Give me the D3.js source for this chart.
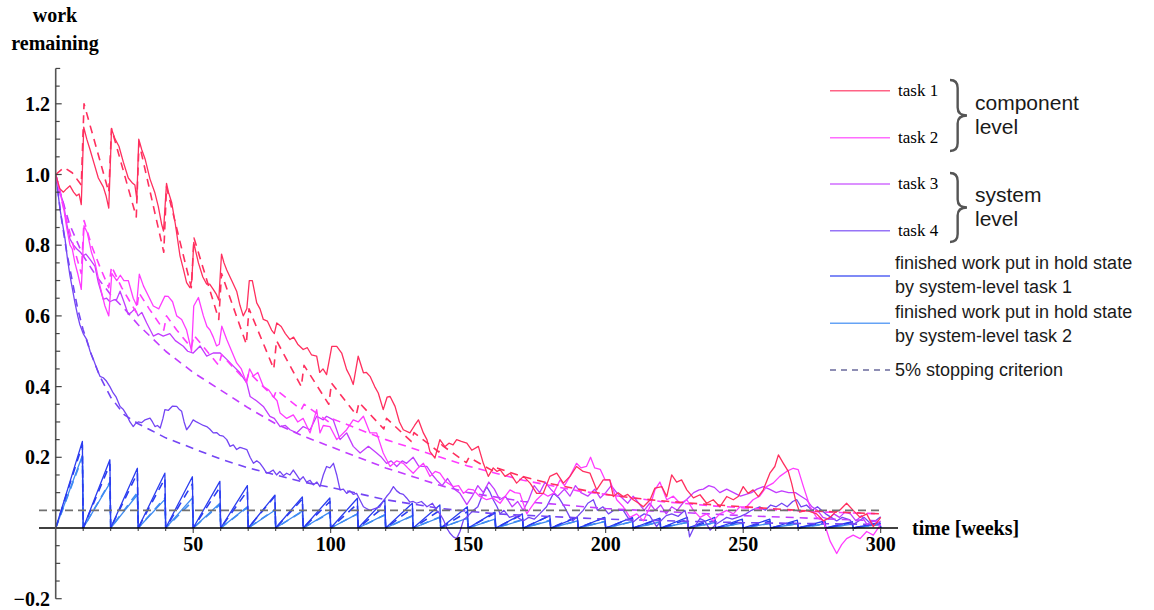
<html><head><title>work remaining</title>
<style>
  body { margin: 0; background: #fff; }
  svg { display: block; }
  .serif { font-family: 'Liberation Serif', 'Times New Roman', serif; fill: #000; }
  .sans { font-family: 'Liberation Sans', Arial, sans-serif; fill: #1a1a1a; }
</style>
</head>
<body>
<svg id="chart" width="1154" height="610"></svg>
<script src="https://cdn.jsdelivr.net/npm/d3@7/dist/d3.min.js"></script>
<script>
// ---- data ----
const task1Solid = [[0,1.0],[1.5,0.96],[2.8,0.95],[4,0.96],[5.2,0.968],[6.5,0.95],[7.6,0.94],[8.5,0.945],[9.3,0.915],
  [10.2,1.134],[11.3,1.10],[12.5,1.07],[14,1.03],[15.5,0.99],[17.3,0.965],[18.3,0.94],[19.3,0.905],
  [20.3,1.129],[21.6,1.10],[23,1.08],[24.6,1.035],[26.4,0.99],[28,0.975],[28.8,0.97],[29.5,0.93],
  [30.2,1.10],[31.3,1.07],[32.5,1.044],[34.3,0.987],[36,0.95],[37.3,0.91],[38.5,0.86],[39.2,0.84],
  [40.3,0.975],[41,0.95],[42.2,0.92],[43.5,0.86],[45.2,0.77],[46.5,0.73],[47.6,0.694],[48.8,0.68],[49.5,0.70],
  [50.2,0.808],[51,0.78],[51.9,0.75],[53.5,0.71],[54.9,0.69],[56,0.69],[57.3,0.675],[58.5,0.66],[59.3,0.645],
  [60.3,0.775],[61.2,0.75],[62.2,0.73],[64,0.70],[65.8,0.67],[67,0.63],[68.2,0.60],[69.5,0.62],
  [70.4,0.70],[71.5,0.70],[73.1,0.637],[74.3,0.62],[75.5,0.59],[77,0.585],[78.5,0.56],[79.5,0.55],
  [80.4,0.58],[82,0.57],[83.5,0.55],[85.2,0.533],[86.5,0.54],[88,0.52],[90,0.505],[91.5,0.51],[93,0.49],[94.9,0.486],[96,0.44],[97.2,0.45],[98.5,0.434],
  [100.4,0.514],[102.2,0.514],[104,0.495],[105.8,0.448],[107,0.43],[108.2,0.406],[110,0.486],[111.9,0.439],[113,0.44],[114.3,0.429],[116,0.40],[117.3,0.382],[119.1,0.335],[120.5,0.37],[121.6,0.372],[123.4,0.344],[125,0.30],[126.4,0.278],[128.8,0.269],[130.5,0.29],[131.9,0.306],[133.7,0.269],[135,0.25],[136.1,0.216],[137.9,0.198],[139.7,0.25],[141.5,0.23],[143,0.24],[144.5,0.235],[145.8,0.25],[147.5,0.245],[149.5,0.24],
  [151.3,0.22],[153.7,0.231],[155.5,0.183],[157.3,0.146],[159.1,0.17],[160.5,0.16],[161.6,0.165],[163.4,0.146],[165.2,0.155],[167.6,0.127],[170.1,0.146],[172.5,0.127],[174.9,0.098],[177.3,0.098],[179.7,0.146],[182.2,0.155],[184.6,0.127],[187,0.146],[189.4,0.174],[191.8,0.16],[194.3,0.155],[196.7,0.108],[199.1,0.136],
  [201.5,0.136],[202.8,0.089],[204.5,0.10],[206.4,0.089],[208,0.095],[210,0.08],[212,0.07],[213.7,0.06],[216.1,0.079],[217.9,0.113],[220.4,0.117],[222.2,0.089],[224,0.15],[225.8,0.13],[227.6,0.136],[229.5,0.108],[231.9,0.085],[234.3,0.094],[236.7,0.07],[239.1,0.08],[241.5,0.06],[244,0.089],[246.4,0.08],[248.2,0.089],
  [250,0.117],[251.8,0.098],[253.6,0.108],[255.5,0.089],[257.3,0.108],[259.7,0.155],[261.5,0.174],[262.8,0.207],[264.6,0.183],[266.4,0.16],[267.6,0.127],[269,0.08],[270.5,0.045],[273.1,0.05],[276.7,0.04],[279.2,0.02],[281.6,0.03],[283.5,0.045],[285.2,0.051],[287.6,0.07],[290,0.05],[292.5,0.03],[294.9,0.04],[297.3,0.004],[299.1,0.02],[300,0.03]];

const task1Dash = [[0,1.0],[3,1.02],[6,1.005],[9.3,0.97],[10.3,1.2],[19.3,0.95],[20.3,1.13],[29.3,0.88],[30.3,1.09],[39.3,0.78],[40.3,0.965],[49.3,0.68],[50.3,0.82],[59.3,0.59],
  [60.3,0.72],[69.3,0.52],[70.3,0.62],[79.3,0.45],[80.3,0.53],[89.3,0.40],[90.3,0.46],[99.3,0.35],[100.3,0.41],[109.3,0.32],[110.3,0.355],[119.3,0.28],[120.3,0.31],[129.3,0.245],[130.3,0.27],[139.3,0.215],[140.3,0.235],[149.3,0.185],[150.3,0.2],[159.3,0.16],[160.3,0.17],
  [170,0.145],[180,0.125],[190,0.11],[200,0.095],[210,0.085],[220,0.077],[235,0.068],[250,0.06],[270,0.05],[300,0.04]];

const task2Solid = [[0,1.0],[1.5,0.95],[2.8,0.91],[4,0.85],[5.2,0.80],[6,0.79],[7,0.75],[8,0.72],[9.3,0.675],
  [10.3,0.855],[11.5,0.835],[13,0.78],[14.3,0.75],[16.1,0.685],[17.9,0.628],[19.3,0.60],
  [20.4,0.72],[22.2,0.70],[23.5,0.715],[24.8,0.70],[26.4,0.70],[28.2,0.65],[29.4,0.63],
  [30.4,0.718],[31.9,0.685],[33.5,0.66],[35.5,0.628],[37.5,0.62],[39.7,0.656],[40.9,0.655],[42.5,0.64],[44,0.60],[45.8,0.59],[47.6,0.56],[49.4,0.50],
  [50.2,0.628],[51.9,0.652],[53.7,0.60],[55,0.57],[56.1,0.56],[57.3,0.54],[58.5,0.515],[59.5,0.52],
  [60.4,0.571],[62.2,0.533],[64,0.50],[65.8,0.467],[67.5,0.45],[69.4,0.41],
  [70.5,0.45],[71.9,0.43],[73.5,0.44],[75.5,0.40],[77.5,0.39],[79.1,0.372],[80.5,0.36],[81.6,0.325],[84,0.31],[86.4,0.32],[88,0.30],[90,0.31],[92.5,0.269],[94.9,0.335],[96.1,0.269],[97.3,0.29],[99.7,0.287],
  [102.2,0.25],[105.8,0.278],[108.2,0.306],[110,0.30],[111.9,0.316],[114.3,0.269],[116.7,0.269],[119.1,0.212],[121.6,0.174],[124,0.19],[126.4,0.183],[128,0.17],[130,0.155],[131.8,0.17],[133.7,0.183],[136.1,0.146],[138,0.16],[139.7,0.155],[142,0.13],[144.6,0.117],[146.5,0.12],[148.3,0.098],[150,0.11],[151.9,0.108],[154,0.09],[156.7,0.08],[159,0.085],[161.6,0.07],[163.5,0.09],[165.2,0.108],[167,0.1],[168.8,0.098],[171.3,0.04],[173,0.06],[174.9,0.08],[177.3,0.098],[179,0.09],[181,0.098],[183.4,0.136],[185,0.12],[187,0.146],[189.4,0.183],[191,0.17],[193,0.174],[194.5,0.2],[196,0.17],[198,0.166],[199.8,0.136],
  [201.5,0.136],[204,0.08],[206.4,0.06],[208.8,0.03],[211.3,0.04],[213.7,0.02],[216.1,0.06],[217.9,0.108],[219.7,0.13],[222.2,0.08],[224.6,0.09],[227,0.07],[229.5,0.08],[231.9,0.05],[234.3,0.03],[236.7,0.04],[239.1,0.02],[241.5,0.04],[244,0.05],[246.4,0.04],[248.8,0.06],[251.2,0.06],[253.6,0.08],[256,0.09],[258.5,0.117],[260.9,0.127],[263.3,0.146],[265.8,0.16],[268.2,0.169],[270,0.165],[271.9,0.117],[274.3,0.06],[276.7,0.03],[279.2,0.02],[281.6,-0.037],[284,-0.072],[285.8,-0.047],[287.6,-0.03],[290,-0.02],[292.5,-0.03],[294.9,-0.01],[297.3,-0.02],[300,0.01]];

const task2Dash = [[0,1.0],[3,0.9],[6,0.81],[9.3,0.72],[10.3,0.87],[13,0.80],[16,0.74],[19.3,0.68],[20.3,0.74],[24,0.68],[29.3,0.61],[30.3,0.665],[34,0.62],[39.3,0.56],[40.3,0.60],[44,0.56],[49.3,0.51],[50.3,0.545],[59.3,0.46],
  [60.3,0.49],[69.3,0.415],[70.3,0.44],[79.3,0.37],[80.3,0.39],[89.3,0.335],[90.3,0.35],[99.3,0.30],[100.3,0.31],[110,0.28],[120,0.25],[130,0.225],[140,0.2],[150,0.175],[160,0.155],[170,0.135],[180,0.12],[190,0.105],[200,0.095],[220,0.075],[240,0.062],[260,0.052],[280,0.045],[300,0.04]];

const task3Solid = [[0,1.0],[1.5,0.95],[2.8,0.92],[4,0.86],[5.2,0.817],[6.5,0.80],[7.6,0.79],[9,0.78],[10,0.77],[11,0.775],[12.5,0.76],[14.3,0.74],[15.5,0.694],[17.3,0.647],[18.5,0.65],[19.7,0.64],[21,0.645],[22.2,0.647],[23.4,0.67],[24.8,0.64],[26.4,0.604],[27.5,0.61],[28.8,0.62],[30,0.60],[31.3,0.61],[33.1,0.58],[35.5,0.543],[37.3,0.55],[39.1,0.543],[41.5,0.55],[43.5,0.53],[46.4,0.514],[48,0.50],
  [50,0.495],[52.5,0.515],[54.9,0.486],[57.3,0.495],[59.8,0.495],[62.2,0.477],[64.6,0.458],[67,0.439],[69.5,0.41],[70.7,0.372],[73,0.36],[75.5,0.344],[77.9,0.316],[79.5,0.31],[81.6,0.287],[83.5,0.29],[85.2,0.278],[87.6,0.269],[90,0.287],[92.5,0.278],[94.9,0.316],[97.3,0.306],[98.5,0.316],
  [100.9,0.306],[103.4,0.25],[105.8,0.269],[108.2,0.231],[110.7,0.212],[113.7,0.231],[116.7,0.212],[118.5,0.2],[120.3,0.183],[122,0.19],[124,0.174],[126,0.19],[127.6,0.183],[130,0.2],[132,0.175],[135,0.174],[137,0.15],[138.5,0.136],[140.5,0.12],[142.5,0.14],[145,0.11],[147,0.098],[149.5,0.066],
  [151.5,0.09],[153.5,0.12],[155.5,0.10],[157.5,0.13],[159.5,0.11],[161.5,0.08],[163.5,0.09],[166,0.06],[168,0.075],[170,0.05],[172,0.08],[174,0.12],[176,0.10],[178,0.13],[180,0.11],[182.5,0.09],[185,0.11],[187,0.09],[189,0.12],[191,0.10],[193.5,0.09],[196,0.11],[198,0.085],
  [200,0.10],[202,0.12],[204,0.10],[206,0.085],[208,0.07],[210,0.09],[212,0.07],[214,0.05],[216,0.07],[218,0.05],[220,0.065],[222,0.04],[224,0.06],[226,0.05],[228,0.07],[230,0.085],[232,0.1],[234,0.108],[235.5,0.11],[237.5,0.12],[239.5,0.115],[241.5,0.10],[244,0.11],[246.5,0.10],[249,0.09],
  [251,0.095],[253,0.10],[255,0.11],[257.3,0.117],[259.5,0.11],[262,0.10],[264,0.105],[266.5,0.10],[269,0.10],[271,0.09],[273,0.08],[275,0.06],[277,0.05],[279,0.03],[281,0.025],[283,0.04],[285,0.03],[287,0.045],[289,0.04],[291,0.02],[293,0.035],[295,0.01],[297,0.02],[299,0.015],[300,0.02]];

const task3Dash = [[0,1.0],[2,0.94],[5,0.86],[10,0.77],[15,0.71],[20,0.66],[25,0.62],[30,0.575],[40,0.50],[50,0.44],[60,0.39],[70,0.34],[80,0.295],[90,0.26],[100,0.23],[110,0.20],[120,0.17],[130,0.145],[140,0.12],[150,0.10],[170,0.075],[200,0.055],[250,0.035],[300,0.02]];

const task4Solid = [[0,1.0],[0.8,0.95],[1.6,0.9],[2.5,0.86],[3.4,0.817],[4.3,0.76],[5.2,0.713],[6,0.68],[7,0.637],[8,0.60],[8.8,0.575],[10,0.55],[11.3,0.533],[12.5,0.50],[13.7,0.477],[15,0.45],[16.1,0.429],[17.3,0.425],[18.5,0.415],[19.7,0.40],[20.9,0.382],[22,0.37],[23.4,0.344],[24.6,0.335],[25.8,0.32],[27,0.30],[28.2,0.287],[29,0.295],
  [30,0.30],[31.2,0.298],[32.5,0.306],[34.3,0.311],[35.2,0.30],[36.1,0.287],[37,0.29],[38,0.283],[39,0.31],[39.7,0.335],[41,0.333],[42.5,0.345],[44,0.344],[45,0.335],[45.8,0.33],[46.7,0.30],[47.6,0.278],[48.8,0.29],[50,0.306],[51.2,0.30],[52.5,0.295],[53.7,0.29],[54.9,0.287],[56,0.28],[57.3,0.269],[58.5,0.27],[59.7,0.262],
  [60.9,0.26],[62.2,0.25],[63.4,0.231],[64.6,0.235],[65.8,0.222],[67,0.228],[68.2,0.225],[69.5,0.222],[70.7,0.2],[71.9,0.183],[73.1,0.19],[74.3,0.183],[75.5,0.17],[76.7,0.155],[77.9,0.158],[79.1,0.164],[80.3,0.15],[81.5,0.16],[82.8,0.148],[84,0.155],[85.2,0.15],[86.4,0.164],[87.6,0.15],[88.8,0.136],[90,0.145],[91.2,0.13],[92.5,0.135],[93.7,0.122],[95,0.13],[96.1,0.117],[97.3,0.15],[98.5,0.174],[99.7,0.17],
  [101,0.183],[102.2,0.15],[103.4,0.108],[104.6,0.11],[105.8,0.098],[107,0.105],[108.2,0.095],[109.4,0.098],[110.6,0.08],[111.9,0.06],[113,0.055],[114.3,0.05],[116,0.055],[117.9,0.06],[119,0.075],[120.3,0.089],[121.5,0.1],[122.8,0.117],[124,0.105],[125.2,0.098],[126.4,0.095],[127.6,0.085],[128.8,0.073],[130,0.075],[131.2,0.07],[133,0.075],[135,0.06],[137,0.07],[138.5,0.05],[139.7,0.04],[141,0.023],[142.2,0.0],[143.4,-0.015],[144.6,-0.025],[145.8,-0.03],[147,-0.01],[148.3,0.023],
  [150,0.035],[151.9,0.05],[153.5,0.06],[155,0.09],[156.7,0.117],[158,0.1],[159.1,0.08],[160.5,0.06],[161.6,0.04],[163,0.05],[165,0.03],[167,0.035],[170,0.02],[172,0.03],[174,0.025],[176,0.04],[178.5,0.06],[181,0.098],[183,0.085],[185,0.06],[187,0.03],[188,0.02],[190,0.035],[191.8,0.05],[193.5,0.07],[195.5,0.08],[197,0.05],[199,0.06],
  [201,0.04],[203,0.05],[206.4,0.05],[208,0.03],[210,0.017],[212,0.03],[214,0.04],[216,0.035],[218.5,0.004],[220,0.02],[222,0.035],[224,0.04],[226.4,0.033],[228.8,0.05],[229.5,0.03],[230.5,-0.025],[232,0.0],[234.3,0.027],[236,0.02],[238,-0.006],[240,0.01],[242,0.02],[244,0.03],[246,0.025],[249,0.033],
  [251,0.04],[253,0.05],[256,0.06],[258,0.05],[260,0.065],[262,0.06],[264,0.07],[266,0.06],[268,0.075],[269.5,0.08],[271,0.06],[273,0.065],[275,0.05],[277,0.06],[280,0.04],[282,0.03],[284,0.02],[286,0.03],[288.8,0.023],[290,0.01],[292,0.02],[294,0.03],[296,0.015],[298,0.02],[300,0.032]];

const task4Dash = [[0,1.0],[2,0.88],[4,0.78],[6,0.70],[8,0.62],[10,0.56],[13,0.49],[16,0.43],[20,0.37],[25,0.32],[30,0.295],[35,0.275],[40,0.255],[50,0.225],[60,0.195],[70,0.17],[80,0.15],[90,0.13],[100,0.115],[120,0.08],[140,0.055],[160,0.04],[200,0.025],[250,0.015],[300,0.01]];

// hold-state work: peak reached at the end of each 10-week review cycle
const reviewWeeks = 10;
const hold1Peaks = [0.245,0.193,0.169,0.155,0.145,0.132,0.12,0.093,0.088,0.085,0.084,0.08,0.07,0.065,0.06,0.045,0.04,0.035,0.03,0.03,0.03,0.028,0.03,0.03,0.025,0.025,0.022,0.02,0.018,0.015];
const hold1DashPeaks = [0.235,0.18,0.155,0.14,0.125,0.115,0.105,0.09,0.082,0.075,0.068,0.062,0.056,0.05,0.046,0.042,0.038,0.035,0.032,0.03,0.028,0.026,0.024,0.022,0.02,0.019,0.018,0.017,0.016,0.015];
const hold2Peaks = [0.205,0.127,0.094,0.081,0.085,0.07,0.06,0.05,0.048,0.045,0.04,0.038,0.035,0.03,0.028,0.025,0.022,0.02,0.02,0.018,0.018,0.017,0.016,0.015,0.014,0.013,0.012,0.012,0.011,0.01];
const hold2DashPeaks = [0.2,0.13,0.1,0.085,0.075,0.066,0.058,0.052,0.047,0.043,0.04,0.037,0.034,0.031,0.028,0.026,0.024,0.022,0.02,0.019,0.018,0.017,0.016,0.015,0.014,0.013,0.012,0.011,0.011,0.01];

const stopCriterion = 0.05;
const xTicks = [50, 100, 150, 200, 250, 300];
const yTicks = [-0.2, 0.2, 0.4, 0.6, 0.8, 1.0, 1.2];

const colors = {
  task1: '#ff2f5e', task2: '#ff3cff', task3: '#c23cff', task4: '#7445f4',
  hold1: '#2a3cf0', hold2: '#3f8cf2', stop: '#707070'
};

// ---- scales ----
const svg = d3.select('#chart');
const x = d3.scaleLinear().domain([0, 300]).range([55.7, 880.7]);
const y = d3.scaleLinear().domain([-0.2, 1.3]).range([598.7, 68.45]);

const line = d3.line().x(d => x(d[0])).y(d => y(d[1]));

function sawtooth(peaks) {
  const pts = [];
  peaks.forEach((p, i) => {
    const t0 = i * reviewWeeks;
    pts.push([t0, 0], [t0 + reviewWeeks - 0.3, p]);
  });
  pts.push([peaks.length * reviewWeeks, 0]);
  return pts;
}

const plot = svg.append('g');

function drawSeries(data, color, dashed) {
  plot.append('path')
    .datum(data)
    .attr('d', line)
    .attr('fill', 'none')
    .attr('stroke', color)
    .attr('stroke-width', dashed ? 1.6 : 1.3)
    .attr('stroke-linejoin', 'round')
    .attr('stroke-dasharray', dashed ? '8,6' : null);
}

// hold state sawtooths
drawSeries(sawtooth(hold2DashPeaks), colors.hold2, true);
drawSeries(sawtooth(hold2Peaks), colors.hold2, false);
drawSeries(sawtooth(hold1DashPeaks), colors.hold1, true);
drawSeries(sawtooth(hold1Peaks), colors.hold1, false);

// tasks
drawSeries(task4Dash, colors.task4, true);
drawSeries(task4Solid, colors.task4, false);
drawSeries(task3Dash, colors.task3, true);
drawSeries(task3Solid, colors.task3, false);
drawSeries(task2Dash, colors.task2, true);
drawSeries(task2Solid, colors.task2, false);
drawSeries(task1Dash, colors.task1, true);
drawSeries(task1Solid, colors.task1, false);

// ---- axes ----
const axes = svg.append('g');
// x axis at zero
axes.append('line')
  .attr('x1', 39).attr('x2', 898)
  .attr('y1', y(0)).attr('y2', y(0))
  .attr('stroke', '#000').attr('stroke-width', 1.5);
axes.selectAll('.xminor')
  .data(d3.range(10, 301, 10))
  .enter().append('line')
  .attr('x1', d => x(d)).attr('x2', d => x(d))
  .attr('y1', y(0)).attr('y2', d => y(0) + (d % 50 === 0 ? 5 : 3))
  .attr('stroke', '#333').attr('stroke-width', 1);
axes.selectAll('.xlab')
  .data(xTicks)
  .enter().append('text')
  .attr('class', 'serif')
  .attr('x', d => x(d)).attr('y', y(0) + 23)
  .attr('text-anchor', 'middle')
  .style('font-size', '20px').style('font-weight', 'bold')
  .text(d => d);

// y axis
axes.append('line')
  .attr('x1', x(0)).attr('x2', x(0))
  .attr('y1', y(1.3)).attr('y2', y(-0.2))
  .attr('stroke', '#555').attr('stroke-width', 1.6);
axes.selectAll('.yminor')
  .data(d3.range(-4, 27).map(i => i * 0.05))
  .enter().append('line')
  .attr('x1', x(0)).attr('x2', (d, i) => x(0) + ((i + 4) % 4 === 0 ? 6 : (i % 2 === 0 ? 4.5 : 4)))
  .attr('y1', d => y(d)).attr('y2', d => y(d))
  .attr('stroke', '#444').attr('stroke-width', 1.2);
axes.selectAll('.ylab')
  .data(yTicks)
  .enter().append('text')
  .attr('class', 'serif')
  .attr('x', 50).attr('y', d => y(d) + 7)
  .attr('text-anchor', 'end')
  .style('font-size', '20px').style('font-weight', 'bold')
  .text(d => d < 0 ? '\u2212' + Math.abs(d).toFixed(1) : d.toFixed(1));

// stopping criterion
plot.append('line')
  .attr('x1', 39).attr('x2', x(300))
  .attr('y1', y(stopCriterion)).attr('y2', y(stopCriterion))
  .attr('stroke', colors.stop).attr('stroke-width', 1.8)
  .attr('stroke-dasharray', '8,5');

// axis titles
svg.append('text').attr('class', 'serif').attr('x', 55).attr('y', 22)
  .attr('text-anchor', 'middle').style('font-size', '20px').style('font-weight', 'bold').text('work');
svg.append('text').attr('class', 'serif').attr('x', 55).attr('y', 50)
  .attr('text-anchor', 'middle').style('font-size', '20px').style('font-weight', 'bold').text('remaining');
svg.append('text').attr('class', 'serif').attr('x', 912).attr('y', 535)
  .style('font-size', '20px').style('font-weight', 'bold').text('time [weeks]');

// ---- legend ----
const legend = svg.append('g');
const taskLegend = [
  { label: 'task 1', color: colors.task1, y: 90.7 },
  { label: 'task 2', color: colors.task2, y: 137.7 },
  { label: 'task 3', color: colors.task3, y: 184 },
  { label: 'task 4', color: colors.task4, y: 230.7 }
];
taskLegend.forEach(d => {
  legend.append('line').attr('x1', 830).attr('x2', 890).attr('y1', d.y).attr('y2', d.y)
    .attr('stroke', d.color).attr('stroke-width', 1.6).attr('stroke-opacity', 0.75);
  legend.append('text').attr('class', 'serif').attr('x', 898).attr('y', d.y + 5)
    .style('font-size', '17px').text(d.label);
});

function brace(x0, y0, y1, w) {
  const ym = (y0 + y1) / 2, xm = x0 + w * 0.45;
  return `M${x0},${y0} Q${xm},${y0} ${xm},${y0 + 8} L${xm},${ym - 8} Q${xm},${ym} ${x0 + w},${ym}` +
         ` Q${xm},${ym} ${xm},${ym + 8} L${xm},${y1 - 8} Q${xm},${y1} ${x0},${y1}`;
}
[[80, 151, 'component', 'level'], [173, 242, 'system', 'level']].forEach(b => {
  legend.append('path').attr('d', brace(950, b[0], b[1], 17))
    .attr('fill', 'none').attr('stroke', '#555').attr('stroke-width', 2.4);
  const ym = (b[0] + b[1]) / 2;
  legend.append('text').attr('class', 'sans').attr('x', 975).attr('y', ym - 6)
    .style('font-size', '21px').text(b[2]);
  legend.append('text').attr('class', 'sans').attr('x', 975).attr('y', ym + 18)
    .style('font-size', '21px').text(b[3]);
});

const holdLegend = [
  { lines: ['finished work put in hold state', 'by system-level task 1'], color: colors.hold1, y: 276, ty: 269.3 },
  { lines: ['finished work put in hold state', 'by system-level task 2'], color: colors.hold2, y: 323.3, ty: 318.3 }
];
holdLegend.forEach(d => {
  legend.append('line').attr('x1', 830).attr('x2', 890).attr('y1', d.y).attr('y2', d.y)
    .attr('stroke', d.color).attr('stroke-width', 1.6).attr('stroke-opacity', 0.8);
  d.lines.forEach((t, i) => {
    legend.append('text').attr('class', 'sans').attr('x', 895).attr('y', d.ty + i * 24)
      .style('font-size', '18px').text(t);
  });
});
legend.append('line').attr('x1', 830).attr('x2', 890).attr('y1', 370).attr('y2', 370)
  .attr('stroke', '#6a6a9c').attr('stroke-width', 1.6).attr('stroke-dasharray', '6,5');
legend.append('text').attr('class', 'sans').attr('x', 895).attr('y', 376)
  .style('font-size', '18px').text('5% stopping criterion');
</script>
</body></html>
